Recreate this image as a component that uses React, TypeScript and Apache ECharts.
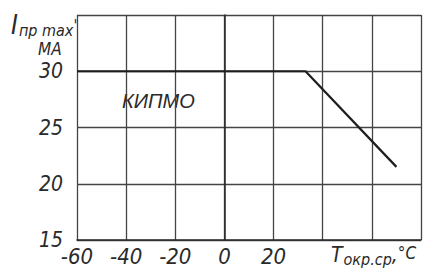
import React, { useEffect, useRef } from "react";
import * as echarts from "echarts";

const xTicks = [-60, -40, -20, 0, 20, 40, 60, 80];
const xLabelShown = [-60, -40, -20, 0, 20];
const yLabelShown = [15, 20, 25, 30];
const curveT = [-60, 33, 70];
const curveI = [30, 30, 21.5];
const curveName = "КИПМО";

const FONT = "'Liberation Sans Narrow', 'DejaVu Sans Condensed', sans-serif";
const INK = "#2a2a2a";

export default function App() {
  const ref = useRef<HTMLDivElement>(null);
  useEffect(() => {
    if (!ref.current) return;
    const chart = echarts.init(ref.current, undefined, { renderer: "svg" });
    chart.setOption({
      animation: false,
      backgroundColor: "#ffffff",
      grid: { left: 77, top: 15, right: 4, bottom: 28 },
      xAxis: {
        type: "value",
        min: xTicks[0],
        max: xTicks[xTicks.length - 1],
        interval: 20,
        axisLine: { show: true, lineStyle: { color: INK, width: 1.5 } },
        axisTick: { show: false },
        splitLine: { show: true, lineStyle: { color: "#444", width: 1.3 } },
        axisLabel: {
          color: INK,
          fontFamily: FONT,
          fontStyle: "italic",
          fontSize: 22,
          margin: 5,
          formatter: (v: number) => (xLabelShown.includes(v) ? String(v) : ""),
        },
      },
      yAxis: {
        type: "value",
        min: 15,
        max: 35,
        interval: 5,
        axisLine: { show: true, lineStyle: { color: INK, width: 1.5 } },
        axisTick: { show: false },
        splitLine: { show: true, lineStyle: { color: "#444", width: 1.3 } },
        axisLabel: {
          color: INK,
          fontFamily: FONT,
          fontStyle: "italic",
          fontSize: 21,
          lineHeight: 15,
          margin: 14,
          formatter: (v: number) => (yLabelShown.includes(v) ? String(v) : ""),
        },
      },
      series: [
        {
          type: "line",
          name: curveName,
          data: curveT.map((t, i) => [t, curveI[i]]),
          showSymbol: false,
          symbol: "none",
          lineStyle: { color: "#1e1e1e", width: 2.2 },
        },
      ],
      graphic: [
        {
          type: "text",
          left: 122,
          top: 91,
          style: {
            text: curveName,
            fill: INK,
            font: `italic 20px 'Liberation Sans', sans-serif`,
          },
        },
        {
          type: "text",
          left: 11,
          top: 12,
          style: {
            text: "{a|I}{b|пр max}{c|'}",
            fill: INK,
            rich: {
              a: { fontFamily: FONT, fontStyle: "italic", fontSize: 26, fill: INK },
              b: { fontFamily: FONT, fontStyle: "italic", fontSize: 16, fill: INK, padding: [10, 0, 0, 1] },
              c: { fontFamily: FONT, fontStyle: "italic", fontSize: 16, fill: INK },
            },
          },
        },
        {
          type: "text",
          left: 38,
          top: 40,
          style: {
            text: "MA",
            fill: INK,
            font: `italic 17px ${FONT}`,
          },
        },
        {
          type: "text",
          left: 331,
          top: 244,
          style: {
            text: "{a|T}{b|окр.ср}{a|,}{c|°C}",
            rich: {
              a: { fontFamily: FONT, fontStyle: "italic", fontSize: 21, fill: INK },
              b: { fontFamily: FONT, fontStyle: "italic", fontSize: 16, fill: INK, padding: [9, 0, 0, 1] },
              c: { fontFamily: FONT, fontStyle: "italic", fontSize: 17, fill: INK, padding: [0, 0, 4, 0] },
            },
          },
        },
      ],
    });
    return () => chart.dispose();
  }, []);
  return (
    <div
      ref={ref}
      style={{ position: "fixed", left: 0, top: 0, width: 425, height: 268, background: "#fff" }}
    />
  );
}
